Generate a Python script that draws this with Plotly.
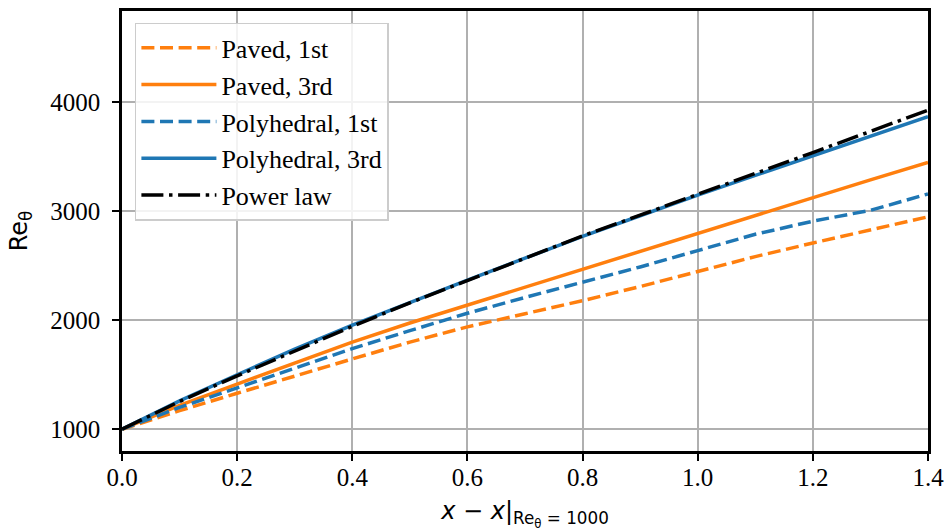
import plotly.graph_objects as go

x = [0.0, 0.1, 0.2, 0.3, 0.4, 0.5, 0.6, 0.7, 0.8, 0.9, 1.0, 1.1, 1.2, 1.3, 1.4]

paved_1st = [1000, 1170, 1330, 1490, 1645, 1800, 1940, 2060, 2180, 2310, 2445, 2585, 2710, 2830, 2950]
paved_3rd = [1000, 1220, 1415, 1610, 1800, 1975, 2140, 2305, 2470, 2630, 2795, 2960, 3125, 3290, 3450]
poly_1st = [1000, 1200, 1380, 1560, 1740, 1905, 2065, 2210, 2350, 2490, 2640, 2790, 2910, 3010, 3160]
poly_3rd = [1000, 1260, 1500, 1735, 1955, 2165, 2370, 2570, 2770, 2960, 3150, 3330, 3510, 3690, 3870]
power_law = [1000, 1255, 1490, 1720, 1945, 2160, 2365, 2570, 2775, 2965, 3155, 3345, 3540, 3735, 3930]

x_ticks = [0.0, 0.2, 0.4, 0.6, 0.8, 1.0, 1.2, 1.4]
x_tick_labels = ["0.0", "0.2", "0.4", "0.6", "0.8", "1.0", "1.2", "1.4"]
y_ticks = [1000, 2000, 3000, 4000]
y_tick_labels = ["1000", "2000", "3000", "4000"]

ORANGE = "#ff7f0e"
BLUE = "#1f77b4"
LW = 3.5
DASH = "13px,5.6px"
DASHDOT = "22px,5.6px,3.5px,5.6px"

fig = go.Figure()
fig.add_trace(go.Scatter(x=x, y=paved_1st, mode="lines", name="Paved, 1st",
                         line=dict(color=ORANGE, width=LW, dash=DASH)))
fig.add_trace(go.Scatter(x=x, y=paved_3rd, mode="lines", name="Paved, 3rd",
                         line=dict(color=ORANGE, width=LW)))
fig.add_trace(go.Scatter(x=x, y=poly_1st, mode="lines", name="Polyhedral, 1st",
                         line=dict(color=BLUE, width=LW, dash=DASH)))
fig.add_trace(go.Scatter(x=x, y=poly_3rd, mode="lines", name="Polyhedral, 3rd",
                         line=dict(color=BLUE, width=LW)))
fig.add_trace(go.Scatter(x=x, y=power_law, mode="lines", name="Power law",
                         line=dict(color="black", width=LW, dash=DASHDOT)))

serif = "Liberation Serif, Times New Roman, serif"
sans = "DejaVu Sans, sans-serif"

axis_common = dict(
    showline=True, linecolor="black", linewidth=2.5, mirror=True,
    showgrid=True, gridcolor="#b0b0b0", gridwidth=1.8,
    zeroline=False, ticks="outside", ticklen=7, tickwidth=2, tickcolor="black",
    tickfont=dict(family=serif, size=25, color="black"),
)

fig.update_xaxes(range=[0, 1.4], tickvals=x_ticks, ticktext=x_tick_labels,
                 ticklabelstandoff=-5,
                 title=dict(text="<i>x</i> − <i>x</i>|<sub>Re<sub>θ</sub> = 1000</sub>",
                            font=dict(family=sans, size=24, color="black"), standoff=15),
                 **axis_common)
fig.update_yaxes(range=[800, 4840], tickvals=y_ticks, ticktext=y_tick_labels,
                 ticklabelstandoff=7,
                 title=dict(text="Re<sub>θ</sub>",
                            font=dict(family=sans, size=24, color="black"), standoff=16),
                 **axis_common)

fig.update_layout(
    width=952, height=531,
    margin=dict(l=122, r=20, t=8, b=80),
    plot_bgcolor="white", paper_bgcolor="white",
    showlegend=True,
    legend=dict(x=0.016, y=0.973, xanchor="left", yanchor="top",
                bgcolor="rgba(255,255,255,0.85)", bordercolor="#cccccc", borderwidth=1.5,
                font=dict(family=serif, size=26, color="black"),
                itemwidth=75, tracegroupgap=0),
)

fig.write_html("out.html", config={"displayModeBar": False},
               post_script="document.body.style.margin='0';document.body.style.overflow='hidden';")
